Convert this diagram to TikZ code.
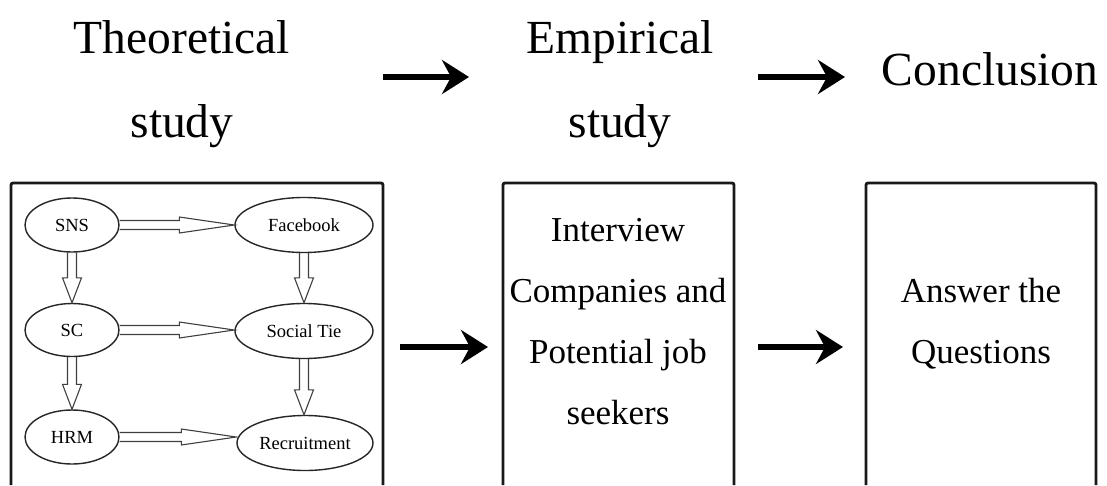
\documentclass[tikz,border=0pt]{standalone}
\usepackage{fontspec}
\setmainfont{Liberation Serif}
\usetikzlibrary{shapes.geometric,arrows.meta,calc}
\tikzset{
  title/.style={font=\fontsize{47.5}{84}\selectfont, align=center, inner sep=0pt},
  boxtext/.style={font=\fontsize{35}{61}\selectfont, align=center, inner sep=0pt},
  oval/.style={ellipse, draw=black!85, line width=1.4pt, inner sep=0pt, font=\fontsize{18.5}{20}\selectfont},
  frame/.style={draw=black!90, line width=2.8pt, rounded corners=2pt},
  bigarrow/.style={line width=6.5pt, -{Stealth[length=27pt,width=34pt,inset=9pt]}},
  hollow/.style={draw=black!75, line width=1.1pt, line join=miter}
}
\newcommand\hollowH[2]{\draw[hollow] let \p1=(#1.east), \p2=(#2.west) in
  (\x1,{\y1+4.5pt}) -- ({\x2-55pt},{\y1+4.5pt}) -- ({\x2-55pt},{\y1+8pt}) -- (\x2,\y1)
  -- ({\x2-55pt},{\y1-8pt}) -- ({\x2-55pt},{\y1-4.5pt}) -- (\x1,{\y1-4.5pt});}
\newcommand\hollowV[2]{\draw[hollow] let \p1=(#1.south), \p2=(#2.north) in
  ({\x1-4.5pt},\y1) -- ({\x1-4.5pt},{\y2+25pt}) -- ({\x1-9.5pt},{\y2+25pt}) -- (\x1,\y2)
  -- ({\x1+9.5pt},{\y2+25pt}) -- ({\x1+4.5pt},{\y2+25pt}) -- ({\x1+4.5pt},\y1);}
\begin{document}
\begin{tikzpicture}[x=1pt,y=-1pt]
\useasboundingbox[fill=white] (0,0) rectangle (1107,485);
% titles
\node[title] (theo) at (182,84) {Theoretical\\study};
\node[title] (emp) at (620,84) {Empirical\\study};
\node[title, anchor=base] (conc) at (990,85) {Conclusion};
\coordinate (t1s) at (383,77); \coordinate (t1e) at (469,77);
\coordinate (t2s) at (758,77); \coordinate (t2e) at (845,77);
\draw[bigarrow] (t1s) -- (t1e);
\draw[bigarrow] (t2s) -- (t2e);
% frames
\draw[frame] (11,485) -- (11,183) -- (383,183) -- (383,485);
\draw[frame] (503,485) -- (503,183) -- (734,183) -- (734,485);
\draw[frame] (866,485) -- (866,183) -- (1096,183) -- (1096,485);
% ovals
\node[oval, minimum width=94pt, minimum height=54pt] (sns) at (72,225) {SNS};
\node[oval, minimum width=138pt, minimum height=55pt] (fb) at (304,225) {Facebook};
\node[oval, minimum width=94pt, minimum height=53pt] (sc) at (72,330) {SC};
\node[oval, minimum width=138pt, minimum height=55pt] (tie) at (304,331) {Social Tie};
\node[oval, minimum width=94pt, minimum height=54pt] (hrm) at (72,437) {HRM};
\node[oval, minimum width=136pt, minimum height=55pt] (rec) at (305,443) {Recruitment};
\hollowH{sns}{fb}
\hollowH{sc}{tie}
\hollowH{hrm}{rec}
\hollowV{sns}{sc}
\hollowV{sc}{hrm}
\hollowV{fb}{tie}
\hollowV{tie}{rec}
% box texts
\node[boxtext] (interview) at (618,322) {Interview\\Companies and\\Potential job\\seekers};
\node[boxtext] (answer) at (981,324) {Answer the\\Questions};
\coordinate (b1s) at (400,347); \coordinate (b1e) at (488,347);
\coordinate (b2s) at (758,347); \coordinate (b2e) at (843,347);
\draw[bigarrow] (b1s) -- (b1e);
\draw[bigarrow] (b2s) -- (b2e);
\end{tikzpicture}
\end{document}
